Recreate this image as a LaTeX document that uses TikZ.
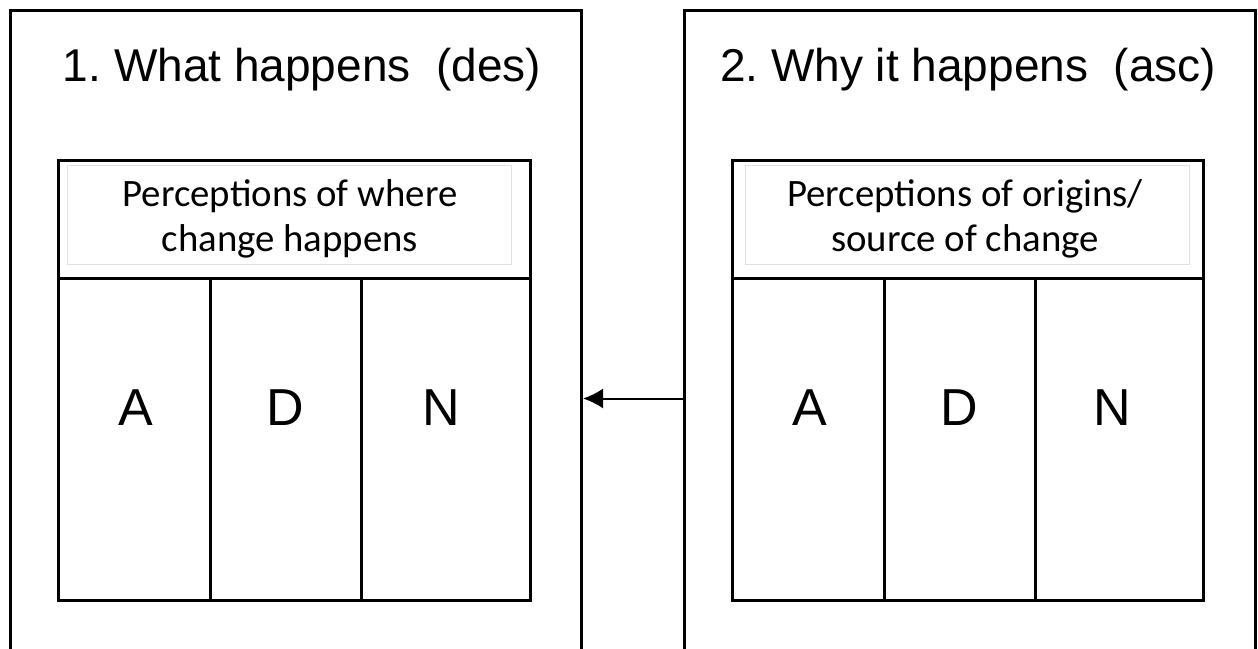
\documentclass[tikz,border=0pt]{standalone}
\usepackage{fontspec}
\setmainfont{Liberation Sans}
\newfontfamily\calibri{Carlito}
\usetikzlibrary{arrows.meta}
\frenchspacing

\tikzset{
  frame/.style={draw, line width=1.5pt, inner sep=0pt, minimum width=285.5pt, minimum height=388pt, anchor=north west},
  title/.style={font=\fontsize{23}{28}\selectfont, anchor=base},
  letter/.style={font=\fontsize{26}{31}\selectfont, anchor=base},
  head/.style={font=\calibri\fontsize{19.4}{22.5}\selectfont, align=center},
  cell/.style={line width=1.5pt},
  faint/.style={draw=black!12, line width=0.5pt},
}

\begin{document}
\begin{tikzpicture}[x=0.5pt, y=-0.5pt]
        \path[use as bounding box] (0,0) rectangle (1258,648);
        \clip (0,0) rectangle (1258,648);
        % outer frames (cut at the bottom)
        \node[frame] (outerL) at (9,9) {};
        \node[frame] (outerR) at (683,9) {};
        \node[title] (titleL) at (302,81) {1. What happens\ \ (des)};
        \node[title] (titleR) at (968,81) {2. Why it happens\ \ (asc)};
        % left table
        \draw[cell] (58,160) rectangle (530,600);
        \draw[cell] (58,278) -- (530,278);
        \draw[cell] (210,278) -- (210,600);
        \draw[cell] (361,278) -- (361,600);
        \draw[faint] (67,165) rectangle (511,264);
        \node[head] (headL) at (290,219) {Perceptions of where\\change happens};
        \node[letter] (aL) at (136,425) {A};
        \node[letter] (dL) at (285,425) {D};
        \node[letter] (nL) at (441,425) {N};
        % right table
        \draw[cell] (732,160) rectangle (1203,600);
        \draw[cell] (732,278) -- (1203,278);
        \draw[cell] (884,278) -- (884,600);
        \draw[cell] (1035,278) -- (1035,600);
        \draw[faint] (745,165) rectangle (1189,264);
        \node[head] (headR) at (965,219) {Perceptions of origins/\\source of change};
        \node[letter] (aR) at (810,425) {A};
        \node[letter] (dR) at (959,425) {D};
        \node[letter] (nR) at (1112,425) {N};
        \draw[-{Latex[length=10pt,width=10pt]}, line width=1pt] (outerR.west) -- (outerL.east);
\end{tikzpicture}
\end{document}
